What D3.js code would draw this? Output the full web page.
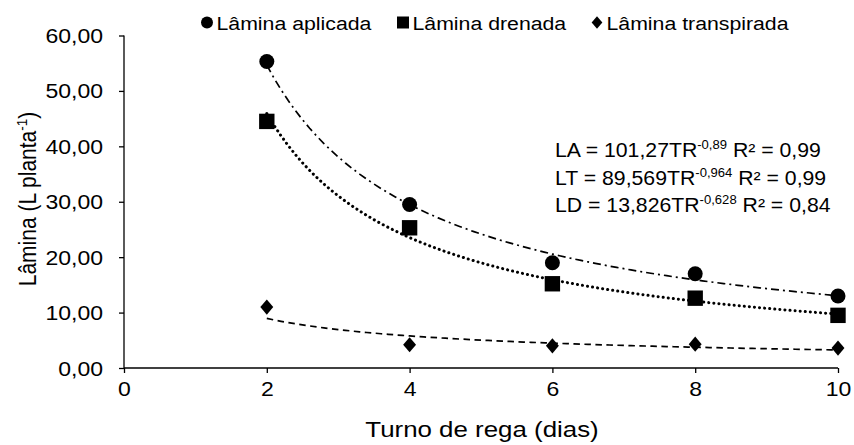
<!DOCTYPE html>
<html><head><meta charset="utf-8">
<script src="https://cdn.jsdelivr.net/npm/d3@7"></script>
<style>body{margin:0;background:#fff}svg{display:block;font-family:"Liberation Sans",Arial,sans-serif}</style>
</head><body><svg id="c" width="854" height="445"></svg>
<script>
const days = [2, 4, 6, 8, 10];
const aplicada = [55.3, 29.5, 19.0, 17.0, 13.0];
const drenada = [44.5, 25.3, 15.2, 12.6, 9.5];
const transpirada = [11.0, 4.2, 4.0, 4.3, 3.6];
const xTicks = [0, 2, 4, 6, 8, 10];
const yTicks = [0, 10, 20, 30, 40, 50, 60];
// trend-line coefficients (a * x^b), as printed on the chart
const trendA = [101.27, -0.89];
const trendT = [89.569, -0.964];
const trendD = [13.826, -0.628];
const eqLabels = ["LA = 101,27TR|-0,89| R² = 0,99", "LT = 89,569TR|-0,964| R² = 0,99", "LD = 13,826TR|-0,628| R² = 0,84"];
const legendLabels = ["Lâmina aplicada", "Lâmina drenada", "Lâmina transpirada"];

const SX = 1.12; // horizontal stretch of the glyphs
const svg = d3.select("#c");
const x = d3.scaleLinear().domain([0, 10]).range([124, 838]);
const y = d3.scaleLinear().domain([0, 60]).range([368, 35.5]);
const fmt = v => d3.format(".2f")(v).replace(".", ",");

const diamond = { draw(ctx, s) { const w = s * 0.85; ctx.moveTo(0, -s); ctx.lineTo(w, 0); ctx.lineTo(0, s); ctx.lineTo(-w, 0); ctx.closePath(); } };
const circle = { draw(ctx, s) { ctx.moveTo(s, 0); ctx.arc(0, 0, s, 0, 2 * Math.PI); } };
const square = { draw(ctx, s) { ctx.rect(-s, -s, 2 * s, 2 * s); } };
const sym = (t, s) => d3.symbol().type(t).size(s)();

function stext(px, py, size, anchor, sx) {
  return svg.append("g").attr("transform", `translate(${px},${py})`)
    .append("text").attr("transform", `scale(${sx || SX},1)`).attr("font-size", size)
    .attr("text-anchor", anchor || "start").attr("fill", "#000");
}

// axes
const TS = 1.18;
const yAxis = svg.append("g").attr("transform", `translate(${x(0)},0)`)
  .call(d3.axisLeft(y).tickValues(yTicks).tickSize(5).tickFormat(fmt).tickPadding(16));
const xAxis = svg.append("g").attr("transform", `translate(0,${y(0)})`)
  .call(d3.axisBottom(x).tickValues(xTicks).tickSize(5).tickPadding(9));
[yAxis, xAxis].forEach(g => {
  g.select(".domain").attr("stroke", "#000").attr("stroke-width", 1.3);
  g.selectAll(".tick line").attr("stroke", "#000").attr("stroke-width", 1.3);
  g.selectAll("text").attr("font-size", 19.5).attr("fill", "#000")
    .attr("font-family", "Liberation Sans, Arial, sans-serif").attr("transform", `scale(${TS},1)`);
});
yAxis.selectAll(".tick text").attr("x", -21 / TS).attr("dy", "0.36em");
xAxis.select(".domain").attr("d", `M${x(0)},0H${x(10)}`);
yAxis.select(".domain").attr("d", `M0,${y(60)}V${y(0)}`);

// trend lines
const fine = d3.range(2, 10.0001, 0.1);
const line = d3.line().x(d => x(d[0])).y(d => y(d[1]));
function trend(c, dash, w, cap) {
  svg.append("path").datum(fine.map(t => [t, c[0] * Math.pow(t, c[1])]))
    .attr("d", line).attr("fill", "none").attr("stroke", "#000")
    .attr("stroke-width", w).attr("stroke-dasharray", dash).attr("stroke-linecap", cap);
}
trend(trendA, "8,4,2,4", 1.7, "butt");
trend(trendT, "0.1,5", 3, "round");
trend(trendD, "6.5,4.5", 1.7, "butt");

// markers
function marks(data, t, s) {
  svg.append("g").selectAll("path").data(data).join("path")
    .attr("transform", (d, i) => `translate(${x(days[i])},${y(d)})`)
    .attr("d", sym(t, s)).attr("fill", "#000");
}
marks(aplicada, circle, 7.5);
marks(drenada, square, 7.7);
marks(transpirada, diamond, 7.6);

// legend
const legSyms = [[circle, 6], [square, 6], [diamond, 6.3]];
const legX = [207, 403, 597];
legendLabels.forEach((t, i) => {
  svg.append("path").attr("transform", `translate(${legX[i]},22.5)`).attr("d", sym(legSyms[i][0], legSyms[i][1])).attr("fill", "#000");
  stext(legX[i] + 9.5, 29.5, 19).text(t);
});

// equations
eqLabels.forEach((e, i) => {
  const [a, sup, b] = e.split("|");
  const t = stext(555, 157 + i * 27.5, 19.5, "start", 1.09);
  t.append("tspan").text(a);
  t.append("tspan").attr("dy", -8).attr("font-size", 12).text(sup);
  t.append("tspan").attr("dy", 8).text(b);
});

// axis titles
stext(482, 437, 22.5, "middle", 1.15).text("Turno de rega (dias)");
const yt = svg.append("g").attr("transform", "translate(36,199) rotate(-90)")
  .append("text").attr("transform", "scale(1,1.15)").attr("text-anchor", "middle").attr("font-size", 21);
yt.append("tspan").text("Lâmina (L planta");
yt.append("tspan").attr("dy", -8).attr("font-size", 13.5).text("-1");
yt.append("tspan").attr("dy", 8).text(")");
</script></body></html>
